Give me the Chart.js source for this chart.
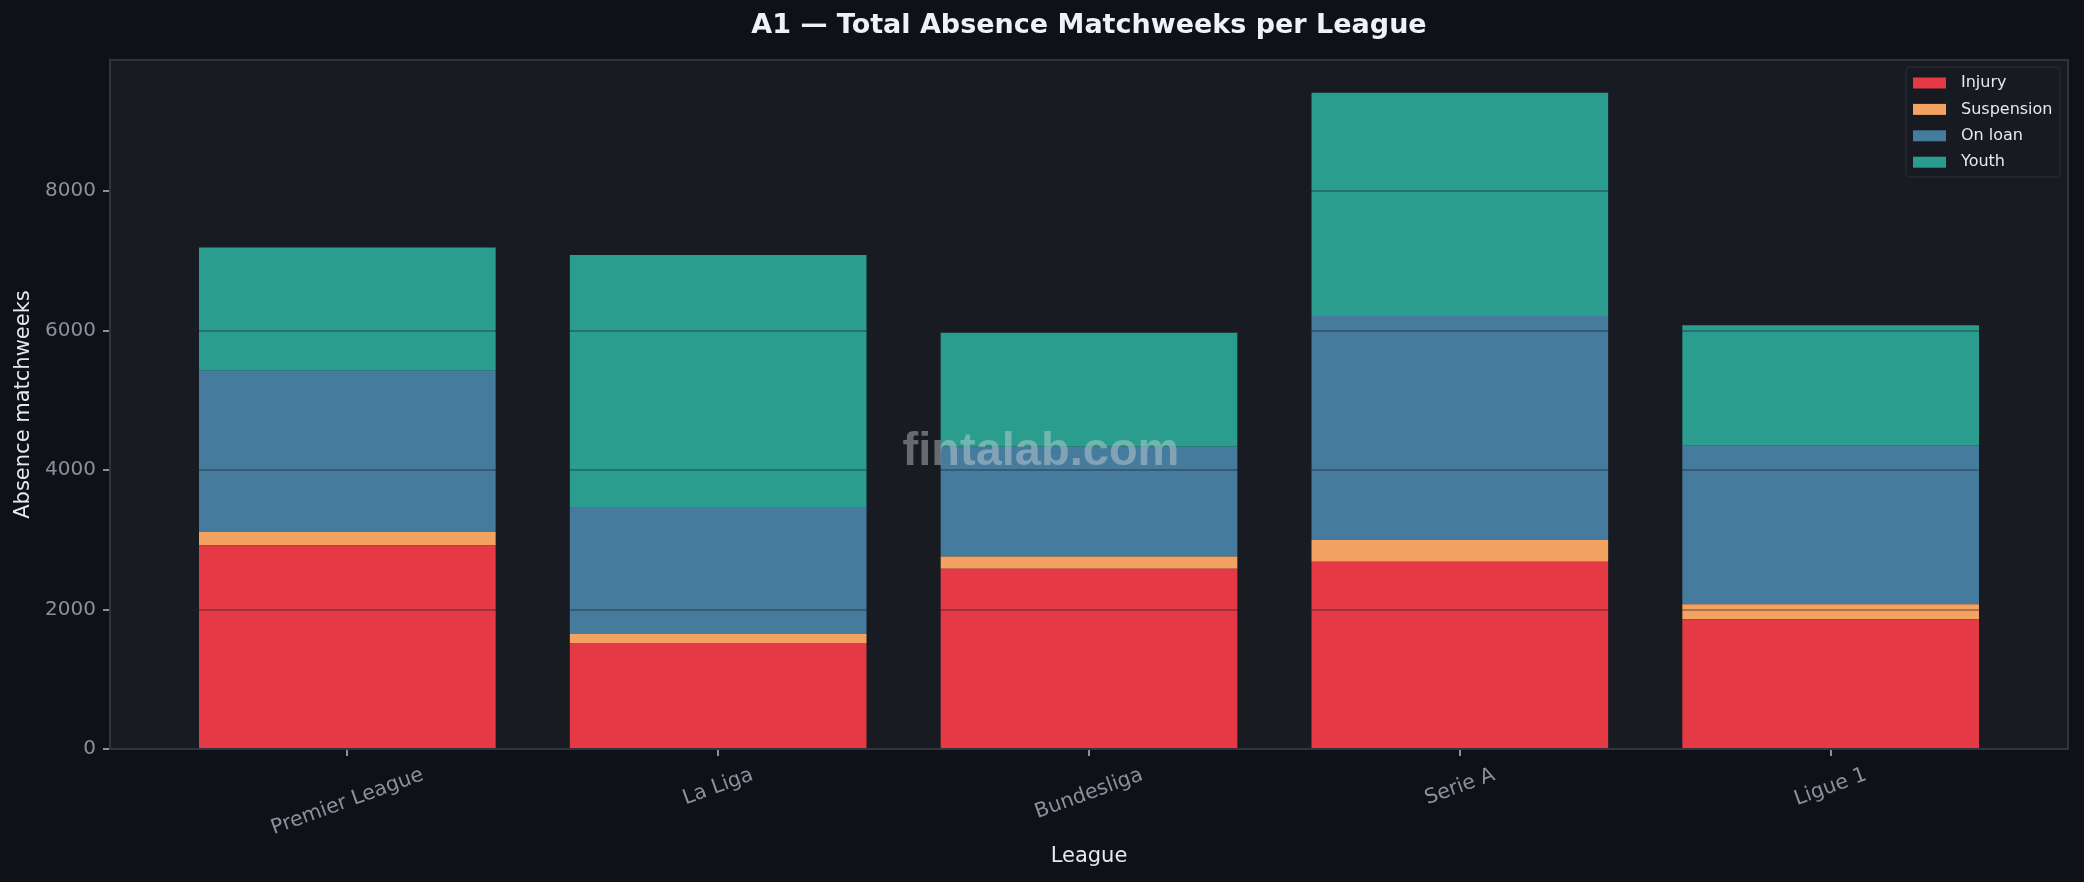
<!DOCTYPE html>
<html>
<head>
<meta charset="utf-8">
<script src="https://cdn.jsdelivr.net/npm/chart.js@4.4.1/dist/chart.umd.min.js"></script>
<style>
  html, body { margin: 0; padding: 0; background: #0e1118; }
  #wrap { width: 2084px; height: 882px; }
</style>
</head>
<body>
<div id="wrap"><canvas id="grafico"></canvas></div>
<script>
const leagues = ['Premier League', 'La Liga', 'Bundesliga', 'Serie A', 'Ligue 1'];
const injury = [2920, 1520, 2585, 2685, 1860];
const suspension = [190, 130, 175, 315, 215];
const onLoan = [2315, 1820, 1575, 3210, 2275];
const youth = [1765, 3615, 1635, 3200, 1725];
const yTicks = [0, 2000, 4000, 6000, 8000];

const FONT = "'DejaVu Sans', sans-serif";
const pts = arr => arr.map((v, i) => ({ x: i, y: v }));

// fundo do painel, moldura, rótulos do eixo x, marca d'água e legenda
const decor = {
  id: 'decor',
  beforeDatasetsDraw(chart) {
    const { ctx, chartArea: a } = chart;
    ctx.save();
    ctx.fillStyle = '#181b22';
    ctx.fillRect(a.left, a.top, a.right - a.left, a.bottom - a.top);
    ctx.restore();
  },
  afterDraw(chart) {
    const { ctx, chartArea: a } = chart;
    const x = chart.scales.x;
    ctx.save();

    // watermark
    ctx.font = "bold 47px 'Liberation Sans', Arial, sans-serif";
    ctx.fillStyle = 'rgba(215,218,222,0.42)';
    ctx.textAlign = 'center';
    ctx.textBaseline = 'middle';
    ctx.fillText('fintalab.com', 1041, 452);

    // frame
    ctx.strokeStyle = '#30343c';
    ctx.lineWidth = 2;
    ctx.strokeRect(a.left, a.top, a.right - a.left, a.bottom - a.top);

    // x tick labels, rotated 20deg, centred on the tick
    const ang = 20 * Math.PI / 180;
    ctx.font = '20.5px ' + FONT;
    ctx.fillStyle = '#8b9099';
    leagues.forEach((name, i) => {
      const px = x.getPixelForValue(i);
      const w = ctx.measureText(name).width;
      const h = 20;
      const bh = w * Math.sin(ang) + h * Math.cos(ang);
      const cy = a.bottom + 16 + bh / 2;
      ctx.save();
      ctx.translate(px, cy);
      ctx.rotate(-ang);
      ctx.fillText(name, 0, 0);
      ctx.restore();
    });

    // legend
    const lx = 1906, ly = 67, lw = 154, lh = 110;
    ctx.fillStyle = 'rgba(24,27,34,0.9)';
    ctx.strokeStyle = '#262a31';
    ctx.lineWidth = 1.5;
    ctx.beginPath();
    ctx.roundRect(lx, ly, lw, lh, 4);
    ctx.fill();
    ctx.stroke();
    ctx.font = '16px ' + FONT;
    ctx.textAlign = 'left';
    ctx.textBaseline = 'middle';
    chart.data.datasets.forEach((ds, i) => {
      const cy = 83 + i * 26.4;
      ctx.fillStyle = ds.backgroundColor;
      ctx.fillRect(1913, cy - 5.5, 33, 11);
      ctx.fillStyle = '#e6e9ee';
      ctx.fillText(ds.label, 1961, cy);
    });
    ctx.restore();
  }
};

const ctx = document.getElementById('grafico').getContext('2d');
new Chart(ctx, {
  type: 'bar',
  data: {
    datasets: [
      { label: 'Injury', data: pts(injury), backgroundColor: '#e63946' },
      { label: 'Suspension', data: pts(suspension), backgroundColor: '#f4a261' },
      { label: 'On loan', data: pts(onLoan), backgroundColor: '#457b9d' },
      { label: 'Youth', data: pts(youth), backgroundColor: '#2a9d8f' }
    ]
  },
  options: {
    responsive: true,
    maintainAspectRatio: false,
    animation: false,
    layout: { padding: { left: 0, right: 16, top: 0, bottom: 0 } },
    datasets: { bar: { categoryPercentage: 1, barPercentage: 0.8, borderWidth: 0 } },
    plugins: {
      legend: { display: false },
      tooltip: { enabled: false },
      title: {
        display: true,
        fullSize: false,
        text: 'A1 \u2014 Total Absence Matchweeks per League',
        color: '#eef1f5',
        font: { family: FONT, size: 27, weight: 'bold' },
        padding: { top: 10, bottom: 17.6 }
      }
    },
    scales: {
      x: {
        type: 'linear',
        stacked: true,
        offset: false,
        min: -0.64,
        max: 4.64,
        afterBuildTicks: s => { s.ticks = leagues.map((_, i) => ({ value: i })); },
        afterFit: s => { s.height = 133; },
        border: { display: false },
        grid: { offset: false, drawOnChartArea: false, tickLength: 7, tickColor: '#8b9099', lineWidth: 2 },
        ticks: { color: 'rgba(0,0,0,0)', maxRotation: 0, autoSkip: false, font: { family: FONT, size: 20 } },
        title: {
          display: true, text: 'League', color: '#e6e9ee',
          font: { family: FONT, size: 21 }, padding: { top: 0, bottom: 13 }
        }
      },
      y: {
        stacked: true,
        min: 0,
        max: 9880,
        afterBuildTicks: s => { s.ticks = yTicks.map(v => ({ value: v })); },
        afterFit: s => { s.width = 110; },
        border: { display: false },
        grid: { z: 1, color: 'rgba(28,32,40,0.35)', lineWidth: 2, tickLength: 7, tickColor: '#8b9099' },
        ticks: { color: '#8b9099', padding: 7, font: { family: FONT, size: 20 }, callback: v => String(v) },
        title: {
          display: true, text: 'Absence matchweeks', color: '#e6e9ee',
          font: { family: FONT, size: 21 }, padding: { top: 11, bottom: 0 }
        }
      }
    }
  },
  plugins: [decor]
});
</script>
</body>
</html>
